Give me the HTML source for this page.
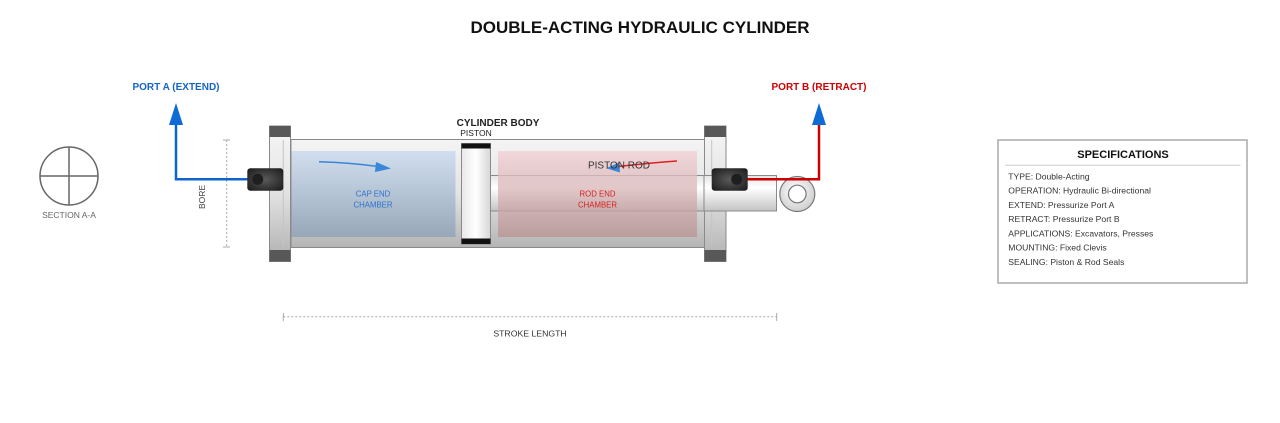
<!DOCTYPE html>
<html>
<head>
<meta charset="utf-8">
<style>
html,body{margin:0;padding:0;background:#fff;}
svg{display:block;}
text{font-family:"Liberation Sans",Arial,sans-serif;}
</style>
</head>
<body>
<svg width="1280" height="423" viewBox="0 0 1280 423" xmlns="http://www.w3.org/2000/svg">
<defs>
  <linearGradient id="body" x1="0" y1="0" x2="0" y2="1">
    <stop offset="0" stop-color="#f4f4f4"/>
    <stop offset="0.5" stop-color="#e4e4e4"/>
    <stop offset="1" stop-color="#b4b4b4"/>
  </linearGradient>
  <linearGradient id="cap" x1="0" y1="0" x2="0" y2="1">
    <stop offset="0" stop-color="#f6f6f6"/>
    <stop offset="0.5" stop-color="#e2e2e2"/>
    <stop offset="1" stop-color="#b0b0b0"/>
  </linearGradient>
  <linearGradient id="rod" x1="0" y1="0" x2="0" y2="1">
    <stop offset="0" stop-color="#e6e6e6"/>
    <stop offset="0.35" stop-color="#ffffff"/>
    <stop offset="1" stop-color="#c4c4c4"/>
  </linearGradient>
  <linearGradient id="piston" x1="0" y1="0" x2="1" y2="0">
    <stop offset="0" stop-color="#e8e8e8"/>
    <stop offset="0.5" stop-color="#ffffff"/>
    <stop offset="1" stop-color="#d6d6d6"/>
  </linearGradient>
  <linearGradient id="blueCh" x1="0" y1="0" x2="0" y2="1">
    <stop offset="0" stop-color="#cddcee"/>
    <stop offset="1" stop-color="#93a5b8"/>
  </linearGradient>
  <linearGradient id="pinkCh" x1="0" y1="0" x2="0" y2="1">
    <stop offset="0" stop-color="#f2d0d3"/>
    <stop offset="1" stop-color="#b99292"/>
  </linearGradient>
  <radialGradient id="fit" cx="0.5" cy="0.5" r="0.6">
    <stop offset="0" stop-color="#5a5a5a"/>
    <stop offset="1" stop-color="#222"/>
  </radialGradient>
  <radialGradient id="clev" cx="0.45" cy="0.4" r="0.6">
    <stop offset="0" stop-color="#ffffff"/>
    <stop offset="1" stop-color="#cfcfcf"/>
  </radialGradient>
</defs>

<!-- Title -->
<text x="640" y="33" font-size="17" font-weight="bold" text-anchor="middle" fill="#111">DOUBLE-ACTING HYDRAULIC CYLINDER</text>

<!-- Section A-A -->
<circle cx="69" cy="176" r="29" fill="none" stroke="#666" stroke-width="1.5"/>
<line x1="40" y1="176" x2="98" y2="176" stroke="#666" stroke-width="1.5"/>
<line x1="69" y1="147" x2="69" y2="205" stroke="#666" stroke-width="1.5"/>
<text x="69" y="218" font-size="8.5" text-anchor="middle" fill="#666">SECTION A-A</text>

<!-- Bore dimension -->
<line x1="226.7" y1="140" x2="226.7" y2="247" stroke="#aaa" stroke-width="1" stroke-dasharray="2,2"/>
<line x1="223" y1="140" x2="230" y2="140" stroke="#aaa" stroke-width="1"/>
<line x1="223" y1="247" x2="230" y2="247" stroke="#aaa" stroke-width="1"/>
<text x="0" y="0" font-size="8.5" text-anchor="middle" fill="#444" transform="translate(205,197) rotate(-90)">BORE</text>

<!-- Body -->
<rect x="291" y="139.5" width="414" height="108" fill="url(#body)" stroke="#8a8a8a" stroke-width="1"/>

<!-- Rod -->
<rect x="490" y="175.5" width="286.5" height="35.5" fill="url(#rod)" stroke="#8a8a8a" stroke-width="1"/>

<!-- Chambers -->
<rect x="291.5" y="151" width="164" height="86" fill="url(#blueCh)" opacity="0.9"/>
<rect x="498" y="151" width="199" height="86" fill="url(#pinkCh)" opacity="0.75"/>

<!-- Piston -->
<rect x="461.5" y="143.5" width="29" height="100.5" fill="url(#piston)" stroke="#8a8a8a" stroke-width="1"/>
<rect x="461.5" y="143.5" width="29" height="5" fill="#111"/>
<rect x="461.5" y="238.5" width="29" height="5.5" fill="#111"/>

<!-- Left end cap -->
<rect x="269.5" y="126" width="21" height="135.5" fill="url(#cap)" stroke="#8a8a8a" stroke-width="1"/>
<rect x="269.5" y="126" width="21" height="11" fill="#585858"/>
<rect x="269.5" y="250" width="21" height="11.5" fill="#585858"/>
<line x1="283.3" y1="140" x2="283.3" y2="247" stroke="#c4c4c4" stroke-width="1"/>

<!-- Right end cap -->
<rect x="704.5" y="126" width="21.5" height="135.5" fill="url(#cap)" stroke="#8a8a8a" stroke-width="1"/>
<rect x="704.5" y="126" width="21.5" height="11" fill="#585858"/>
<rect x="704.5" y="250" width="21.5" height="11.5" fill="#585858"/>
<line x1="711.7" y1="140" x2="711.7" y2="247" stroke="#c4c4c4" stroke-width="1"/>

<!-- Rod over right cap -->
<rect x="704" y="175.5" width="72.5" height="35.5" fill="url(#rod)" stroke="#8a8a8a" stroke-width="1"/>

<!-- Clevis -->
<circle cx="797.3" cy="194" r="17.5" fill="url(#clev)" stroke="#777" stroke-width="1.2"/>
<circle cx="797.3" cy="194" r="8.8" fill="#fff" stroke="#777" stroke-width="1.2"/>

<!-- Port A line -->
<polyline points="248,179.3 176,179.3 176,124" fill="none" stroke="#0e64cc" stroke-width="2.5"/>
<polygon points="176,103 169,125 183,125" fill="#0e6bd6"/>
<!-- Port B line -->
<polyline points="747,179.3 819,179.3 819,124" fill="none" stroke="#cc0000" stroke-width="2.5"/>
<polygon points="819,103 812,125 826,125" fill="#0e6bd6"/>

<!-- Fittings -->
<rect x="247.3" y="168.3" width="36" height="22.4" rx="3" fill="url(#fit)"/>
<circle cx="257.7" cy="179.3" r="5.5" fill="#1e1e1e"/>
<rect x="711.7" y="168.3" width="36" height="22.4" rx="3" fill="url(#fit)"/>
<circle cx="736.7" cy="179.3" r="5.5" fill="#1e1e1e"/>

<!-- Flow arrows -->
<path d="M319,161.7 Q350,162.5 378,166.5" fill="none" stroke="#3a86d8" stroke-width="1.5"/>
<polygon points="391,168.5 376,162 375,172" fill="#3a86d8"/>
<path d="M677,161 Q650,163 618,166.5" fill="none" stroke="#dd2222" stroke-width="1.5"/>
<polygon points="606,168.3 619,162.5 620,172.5" fill="#3a86d8"/>

<!-- Labels -->
<text x="176" y="90" font-size="10" font-weight="bold" text-anchor="middle" fill="#1565c8">PORT A (EXTEND)</text>
<text x="819" y="90" font-size="10" font-weight="bold" text-anchor="middle" fill="#cc0000">PORT B (RETRACT)</text>
<text x="498" y="126" font-size="10" font-weight="bold" text-anchor="middle" fill="#222">CYLINDER BODY</text>
<text x="476" y="136" font-size="8.5" text-anchor="middle" fill="#222">PISTON</text>
<text x="619" y="168.3" font-size="10" text-anchor="middle" fill="#333">PISTON ROD</text>
<text x="373" y="196.7" font-size="7.8" text-anchor="middle" fill="#2a72cc">CAP END</text>
<text x="373" y="207.7" font-size="7.8" text-anchor="middle" fill="#2a72cc">CHAMBER</text>
<text x="597.5" y="196.7" font-size="7.8" text-anchor="middle" fill="#d42020">ROD END</text>
<text x="597.5" y="207.7" font-size="7.8" text-anchor="middle" fill="#d42020">CHAMBER</text>

<!-- Stroke length -->
<line x1="283.3" y1="316.7" x2="776.7" y2="316.7" stroke="#aaa" stroke-width="1" stroke-dasharray="2,2"/>
<line x1="283.3" y1="313" x2="283.3" y2="321" stroke="#aaa" stroke-width="1"/>
<line x1="776.7" y1="313" x2="776.7" y2="321" stroke="#aaa" stroke-width="1"/>
<text x="530" y="336.5" font-size="8.7" text-anchor="middle" fill="#333">STROKE LENGTH</text>

<!-- Specifications -->
<rect x="998" y="140" width="249" height="143" fill="#fff" stroke="#aaa" stroke-width="1.5"/>
<text x="1123" y="158" font-size="11" font-weight="bold" text-anchor="middle" fill="#111">SPECIFICATIONS</text>
<line x1="1005" y1="165.3" x2="1240.5" y2="165.3" stroke="#ccc" stroke-width="1"/>
<g font-size="8.6" fill="#333">
<text x="1008.3" y="179.3">TYPE: Double-Acting</text>
<text x="1008.3" y="193.5">OPERATION: Hydraulic Bi-directional</text>
<text x="1008.3" y="207.8">EXTEND: Pressurize Port A</text>
<text x="1008.3" y="222">RETRACT: Pressurize Port B</text>
<text x="1008.3" y="236.3">APPLICATIONS: Excavators, Presses</text>
<text x="1008.3" y="250.6">MOUNTING: Fixed Clevis</text>
<text x="1008.3" y="264.9">SEALING: Piston &amp; Rod Seals</text>
</g>
</svg>
</body>
</html>
